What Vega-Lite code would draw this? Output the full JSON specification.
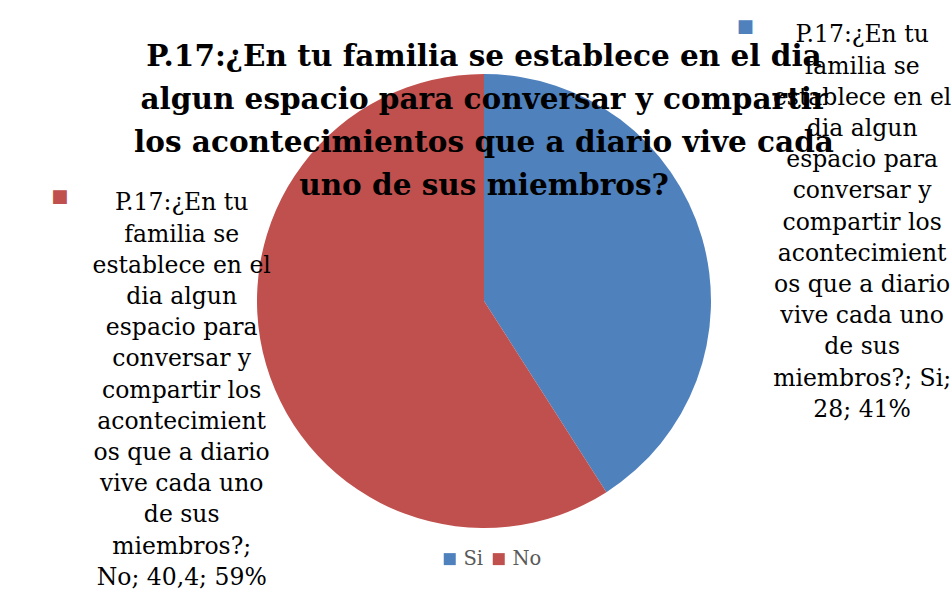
{
  "$schema": "https://vega.github.io/schema/vega-lite/v6.json",
  "width": 932,
  "height": 578,
  "autosize": {"type": "none"},
  "padding": {"left": 18, "top": 12, "right": 1, "bottom": 0},
  "background": "white",
  "config": {"view": {"stroke": "#d9d9d9", "strokeWidth": 1.5, "cornerRadius": 22}},
  "title": {
    "text": ["P.17:¿En tu familia se establece en el dia", "algun espacio para conversar y compartir", "los acontecimientos que a diario vive cada", "uno de sus miembros?"],
    "font": "DejaVu Serif",
    "fontSize": 29.5,
    "fontWeight": "bold",
    "color": "#000000",
    "anchor": "middle",
    "frame": "group",
    "baseline": "top",
    "offset": -189,
    "lineHeight": 43
  },
  "data": {
    "values": [
      {"respuesta": "Si", "valor": 28, "etiqueta": ["P.17:¿En tu", "familia se", "establece en el", "dia algun", "espacio para", "conversar y", "compartir los", "acontecimient", "os que a diario", "vive cada uno", "de sus", "miembros?; Si;", "28; 41%"]},
      {"respuesta": "No", "valor": 40.4, "etiqueta": ["P.17:¿En tu", "familia se", "establece en el", "dia algun", "espacio para", "conversar y", "compartir los", "acontecimient", "os que a diario", "vive cada uno", "de sus", "miembros?;", "No; 40,4; 59%"]}
    ]
  },
  "encoding": {
    "theta": {"field": "valor", "type": "quantitative", "stack": true},
    "order": {"field": "respuesta", "sort": "descending"}
  },
  "layer": [
    {
      "mark": {"type": "arc", "radius": 227},
      "encoding": {
        "color": {
          "field": "respuesta",
          "type": "nominal",
          "sort": ["Si", "No"],
          "scale": {"domain": ["Si", "No"], "range": ["#4F81BD", "#C0504D"]},
          "legend": {
            "orient": "none",
            "legendX": 422,
            "legendY": 537,
            "direction": "horizontal",
            "title": null,
            "symbolType": "square",
            "symbolSize": 144,
            "symbolStrokeWidth": 0,
            "labelFont": "DejaVu Serif",
            "labelFontSize": 19.5,
            "labelColor": "#595959",
            "columnPadding": 5,
            "labelOffset": 4
          }
        }
      }
    },
    {
      "mark": {
        "type": "text",
        "font": "DejaVu Serif",
        "fontSize": 23.5,
        "lineHeight": 31.2,
        "align": "center",
        "baseline": "middle",
        "color": "#000000",
        "dy": {"expr": "datum.respuesta === 'Si' ? -155 : -186"}
      },
      "encoding": {
        "text": {"field": "etiqueta"},
        "radius": {"value": {"expr": "datum.respuesta === 'Si' ? 394 : 315"}},
        "detail": {"field": "respuesta"}
      }
    },
    {
      "mark": {
        "type": "text",
        "text": "■",
        "font": "DejaVu Sans",
        "fontSize": 18,
        "align": "center",
        "baseline": "middle",
        "dx": {"expr": "datum.respuesta === 'Si' ? -117 : -122"},
        "dy": {"expr": "datum.respuesta === 'Si' ? -163 : -192"}
      },
      "encoding": {
        "radius": {"value": {"expr": "datum.respuesta === 'Si' ? 394 : 315"}},
        "color": {"field": "respuesta", "type": "nominal", "legend": null}
      }
    }
  ]
}
